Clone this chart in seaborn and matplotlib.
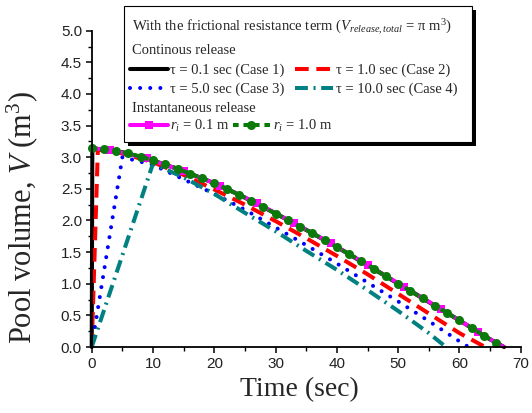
import matplotlib
matplotlib.use("Agg")
import matplotlib.pyplot as plt
from matplotlib.patches import Rectangle
import seaborn as sns

# ---- data ----
# continuous release, case 1 (tau = 0.1 s)
t_case1 = [0, 0.1, 5, 10, 15, 20, 25, 30, 35, 40, 45, 50, 55, 60, 65, 67.3]
v_case1 = [0, 3.14, 3.08, 2.95, 2.78, 2.59, 2.36, 2.11, 1.85, 1.58, 1.29, 1.00, 0.71, 0.42, 0.12, 0.0]
# case 2 (tau = 1.0 s)
t_case2 = [0, 1, 5, 10, 15, 20, 25, 30, 35, 40, 45, 50, 55, 60, 64.2]
v_case2 = [0, 3.12, 3.06, 2.92, 2.72, 2.49, 2.25, 1.99, 1.72, 1.44, 1.15, 0.84, 0.53, 0.22, 0.0]
# case 3 (tau = 5.0 s)
t_case3 = [0, 5, 10, 15, 20, 25, 30, 35, 40, 45, 50, 55, 60, 61.5]
v_case3 = [0, 3.00, 2.88, 2.65, 2.42, 2.17, 1.89, 1.61, 1.32, 1.02, 0.72, 0.41, 0.09, 0.0]
# case 4 (tau = 10.0 s)
t_case4 = [0, 10, 15, 20, 25, 30, 35, 40, 45, 50, 55, 57.8]
v_case4 = [0, 2.90, 2.68, 2.42, 2.12, 1.83, 1.52, 1.22, 0.90, 0.57, 0.22, 0.0]
# instantaneous release, r_i = 0.1 m
t_r01 = [0, 3, 9, 15, 21, 27, 33, 39, 45, 51, 57, 63, 67.2]
v_r01 = [3.14, 3.12, 2.98, 2.78, 2.55, 2.27, 1.96, 1.64, 1.30, 0.95, 0.60, 0.24, 0.0]
# instantaneous release, r_i = 1.0 m
t_r10 = [0, 2, 4, 6, 8, 10, 12, 14, 16, 18, 20, 22, 24, 26, 28, 30, 32, 34,
         36, 38, 40, 42, 44, 46, 48, 50, 52, 54, 56, 58, 60, 62, 64, 66, 67.0]
v_r10 = [3.14, 3.13, 3.10, 3.06, 3.01, 2.95, 2.89, 2.82, 2.74, 2.67, 2.59, 2.50,
         2.41, 2.31, 2.21, 2.11, 2.01, 1.90, 1.80, 1.69, 1.58, 1.47, 1.36, 1.24,
         1.12, 1.00, 0.89, 0.77, 0.65, 0.54, 0.42, 0.30, 0.18, 0.06, 0.0]

labels_cont = ["τ = 0.1 sec (Case 1)", "τ = 1.0 sec (Case 2)",
               "τ = 5.0 sec (Case 3)", "τ = 10.0 sec (Case 4)"]
labels_inst = ["$r_i$ = 0.1 m", "$r_i$ = 1.0 m"]

sns.set_style("ticks")
plt.rcParams["font.family"] = ["Liberation Serif", "DejaVu Serif"]
plt.rcParams["mathtext.fontset"] = "custom"
plt.rcParams["mathtext.rm"] = "Liberation Serif"
plt.rcParams["mathtext.it"] = "Liberation Serif:italic"

fig = plt.figure(figsize=(5.32, 4.13), dpi=100)
ax = fig.add_axes([0.1724, 0.1598, 0.8064, 0.7659])

lw = 2.9
l1 = sns.lineplot(x=t_case1, y=v_case1, ax=ax, color="black", lw=lw,
                  estimator=None, sort=False, clip_on=False).lines[-1]
l2 = sns.lineplot(x=t_case2, y=v_case2, ax=ax, color="#ff0000", lw=lw,
                  linestyle=(0, (3.4, 1.9)), estimator=None, sort=False).lines[-1]
l3 = sns.lineplot(x=t_case3, y=v_case3, ax=ax, color="#0000ff", lw=lw,
                  linestyle=(0, (0.01, 2.5)), dash_capstyle="round",
                  estimator=None, sort=False).lines[-1]
l4 = sns.lineplot(x=t_case4, y=v_case4, ax=ax, color="#008080", lw=lw,
                  linestyle=(0, (3.2, 1.4, 0.5, 1.4)), estimator=None, sort=False).lines[-1]
l5 = sns.lineplot(x=t_r01, y=v_r01, ax=ax, color="#ff00ff", lw=lw,
                  marker="s", markersize=6, markeredgewidth=0,
                  markevery=list(range(1, len(t_r01) - 1)),
                  estimator=None, sort=False).lines[-1]
l6 = sns.lineplot(x=t_r10, y=v_r10, ax=ax, color="#0a7a0a", lw=lw,
                  linestyle=(0, (1.4, 1.2)), marker="o", markersize=6.5,
                  markeredgewidth=0, markevery=list(range(0, len(t_r10) - 1)),
                  estimator=None, sort=False, clip_on=False).lines[-1]

ax.set_xlim(0, 70)
ax.set_ylim(0, 5)
ax.set_xticks(range(0, 71, 10))
ax.set_xticks(range(5, 70, 10), minor=True)
ax.set_yticks([i * 0.5 for i in range(11)])
ax.set_yticks([0.25 + i * 0.5 for i in range(10)], minor=True)
ax.set_yticklabels([f"{i * 0.5:.1f}" for i in range(11)])
for sp in ["top", "right"]:
    ax.spines[sp].set_visible(False)
for sp in ["left", "bottom"]:
    ax.spines[sp].set_linewidth(1.3)
    ax.spines[sp].set_color("black")
ax.tick_params(which="major", direction="out", length=4.5, width=1.1,
               color="black", labelsize=11, pad=2.5)
ax.tick_params(which="minor", direction="out", length=2.8, width=1.0, color="black")
for lab in ax.get_xticklabels() + ax.get_yticklabels():
    lab.set_fontfamily("Liberation Sans")
    lab.set_color("#222222")

ax.set_xlabel("Time (sec)", fontsize=20)
ax.set_ylabel("Pool volume, $V$ (m$^3$)", fontsize=22)
ax.xaxis.set_label_coords(0.483, -0.095)
ax.yaxis.set_label_coords(-0.12, 0.41)

# ---- legend box ----
W, H = 532.0, 413.0
x0, y0, x1, y1 = 124, 6, 472, 142
shadow = Rectangle((x0 / W + 4 / W, 1 - y1 / H - 4 / H), (x1 - x0) / W, (y1 - y0) / H,
                   transform=fig.transFigure, facecolor="black", edgecolor="none", zorder=5)
frame = Rectangle((x0 / W, 1 - y1 / H), (x1 - x0) / W, (y1 - y0) / H,
                  transform=fig.transFigure, facecolor="white", edgecolor="black",
                  lw=0.8, zorder=6)
fig.patches.extend([shadow, frame])

fs = 10.5
tx = 132 / W
fig.text(tx, 1 - 31 / H, "With the frictional resistance term ($V_{release,total}$ = π m$^3$)",
         fontsize=fs, va="baseline", zorder=7)
fig.text(tx, 1 - 54 / H, "Continous release", fontsize=fs, va="baseline", zorder=7)
fig.text(tx, 1 - 112 / H, "Instantaneous release", fontsize=fs, va="baseline", zorder=7)

leg1 = fig.legend([l1, l3, l2, l4], [labels_cont[0], labels_cont[2], labels_cont[1], labels_cont[3]],
                  ncol=2, loc="upper left", bbox_to_anchor=(130 / W, 1 - 64 / H),
                  frameon=False, fontsize=fs, handlelength=2.6, handletextpad=0.15,
                  columnspacing=0.75, borderpad=0, borderaxespad=0, labelspacing=0.33)
leg1.set_zorder(8)
leg2 = fig.legend([l5, l6], labels_inst, ncol=2, loc="upper left",
                  bbox_to_anchor=(130 / W, 1 - 118 / H), frameon=False, fontsize=fs,
                  handlelength=2.6, handletextpad=0.15, columnspacing=0.2,
                  borderpad=0, borderaxespad=0)
leg2.set_zorder(8)

fig.savefig("out.png", dpi=100)
